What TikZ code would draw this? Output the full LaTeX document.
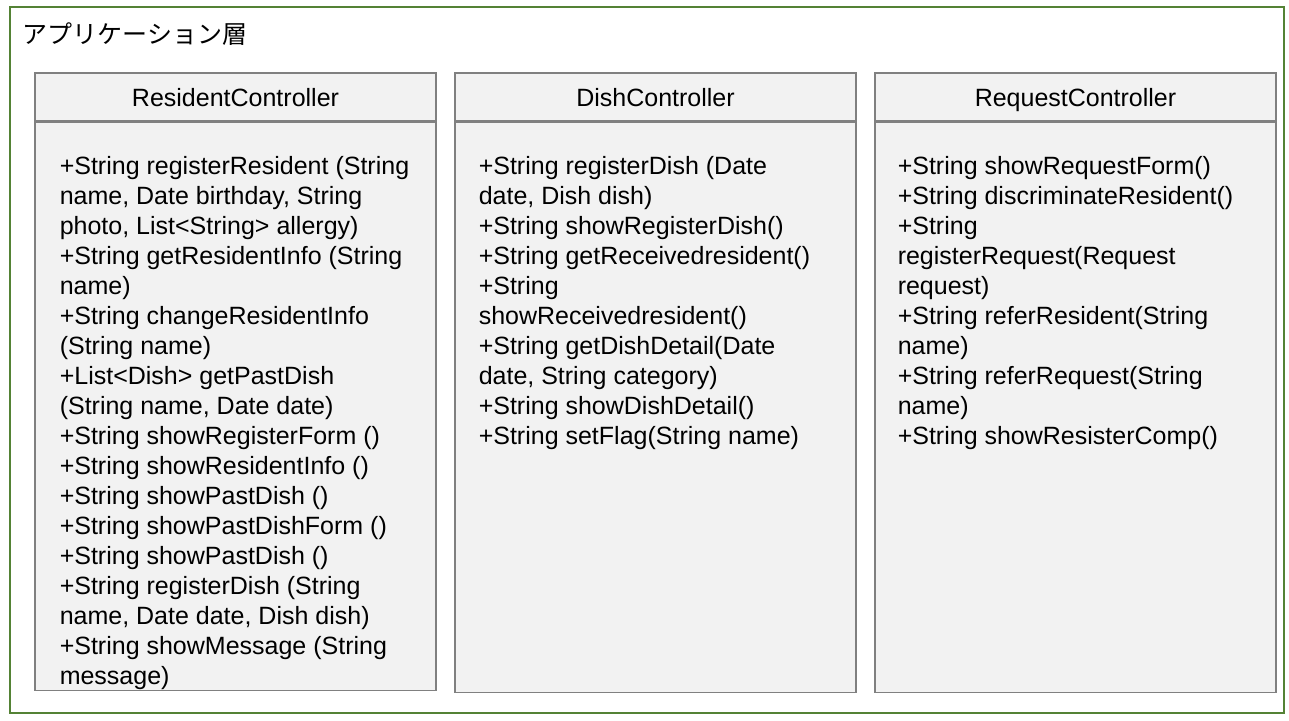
\documentclass[tikz,border=0pt]{standalone}
\usepackage{fontspec}
\setmainfont{Liberation Sans}
\newfontfamily\jpfont{Noto Sans CJK JP}
\usetikzlibrary{positioning}

\definecolor{framegreen}{RGB}{84,130,53}
\definecolor{boxgray}{RGB}{128,128,128}
\definecolor{boxfill}{RGB}{242,242,242}

\begin{document}
\begin{tikzpicture}[x = 1pt, y = -1pt, line width = 1.5pt,
                    layer/.style = {draw = framegreen, anchor = north west, inner sep = 0pt},
                    head/.style = {draw = boxgray, fill = boxfill, minimum width = 401pt, minimum height = 48pt,
                                   inner sep = 0pt, text height = 18pt, text depth = 0pt,
                                   font = \fontsize{25}{30}\selectfont},
                    body/.style = {draw = boxgray, fill = boxfill, minimum width = 401pt, inner sep = 0pt},
                    member/.style = {anchor = north west, align = left, inner sep = 0pt,
                                     font = \fontsize{25}{30}\selectfont}]
      \useasboundingbox (0, 0) rectangle (1289, 720);
      \node [layer, minimum width = 1274pt, minimum height = 706pt] (appLayer) at (9, 6) {};
      \node [anchor = west, inner sep = 0pt, font = \jpfont\fontsize{25}{30}\selectfont] (layerTitle) at (22, 34) {アプリケーション層};

      \node [head] (resHead) at (235.5, 97) {ResidentController};
      \node [body, minimum height = 568pt, below = 0pt of resHead] (resBody) {};
      \node [member] (resOps) at (59, 156) {+String registerResident (String\\
        name, Date birthday, String\\
        photo, List<String> allergy)\\
        +String getResidentInfo (String\\
        name)\\
        +String changeResidentInfo\\
        (String name)\\
        +List<Dish> getPastDish\\
        (String name, Date date)\\
        +String showRegisterForm ()\\
        +String showResidentInfo ()\\
        +String showPastDish ()\\
        +String showPastDishForm ()\\
        +String showPastDish ()\\
        +String registerDish (String\\
        name, Date date, Dish dish)\\
        +String showMessage (String\\
        message)};

      \node [head] (dishHead) at (655.5, 97) {DishController};
      \node [body, minimum height = 570pt, below = 0pt of dishHead] (dishBody) {};
      \node [member] (dishOps) at (478, 156) {+String registerDish (Date\\
        date, Dish dish)\\
        +String showRegisterDish()\\
        +String getReceivedresident()\\
        +String\\
        showReceivedresident()\\
        +String getDishDetail(Date\\
        date, String category)\\
        +String showDishDetail()\\
        +String setFlag(String name)};

      \node [head] (reqHead) at (1075.5, 97) {RequestController};
      \node [body, minimum height = 570pt, below = 0pt of reqHead] (reqBody) {};
      \node [member] (reqOps) at (897, 156) {+String showRequestForm()\\
        +String discriminateResident()\\
        +String\\
        registerRequest(Request\\
        request)\\
        +String referResident(String\\
        name)\\
        +String referRequest(String\\
        name)\\
        +String showResisterComp()};
    \end{tikzpicture}
\end{document}
